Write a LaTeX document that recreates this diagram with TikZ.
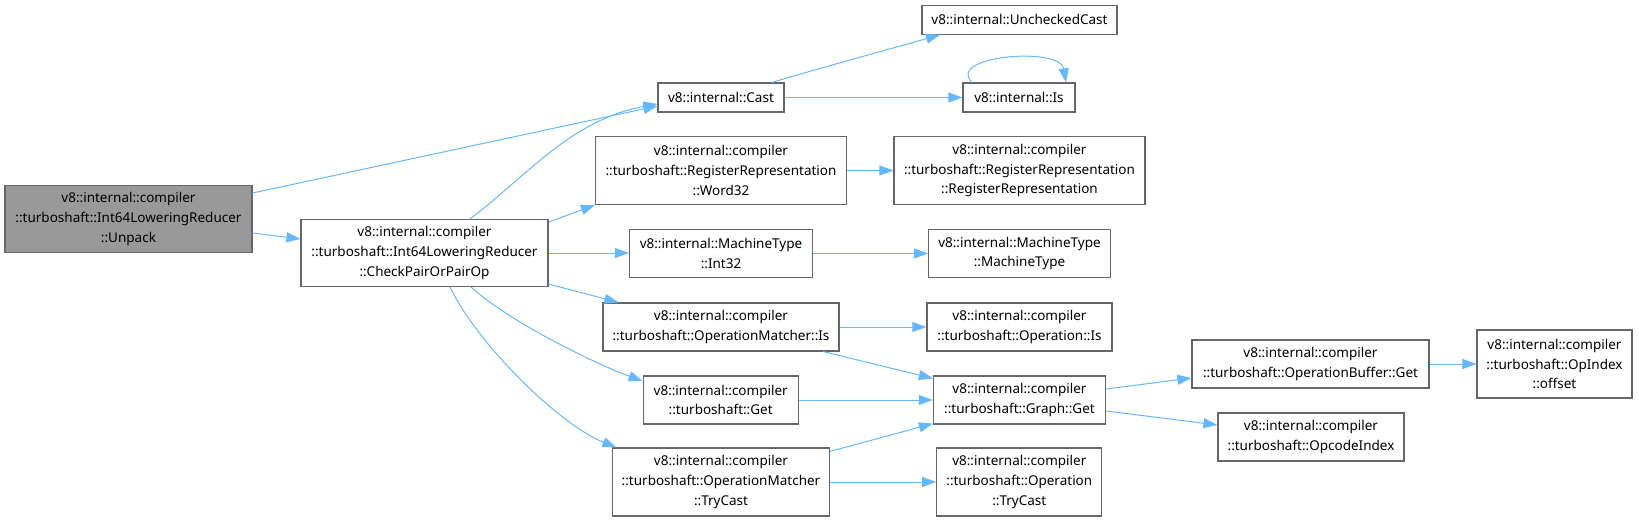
\documentclass[tikz,border=0pt]{standalone}
\usepackage{fontspec}
\setmainfont{Noto Sans}
\usetikzlibrary{arrows.meta}
\definecolor{edgeblue}{HTML}{63B8FF}
\definecolor{boxline}{HTML}{666666}
\definecolor{boxfill}{HTML}{999999}
\tikzset{
  fn/.style={draw=boxline, fill=white, line width=1.2pt, inner sep=0pt, align=center,
    font=\fontsize{13.5}{19.8}\selectfont},
  sz/.style 2 args={minimum width=#1pt, minimum height=#2pt},
  call/.style={draw=edgeblue, line width=1pt, ->},
}
\begin{document}
\begin{tikzpicture}[x=1pt, y=-1pt, >={Triangle[length=14pt,width=10pt]}]
  \useasboundingbox (0,0) rectangle (1639,522);
  % caller
  \node[fn, fill=boxfill, sz={247}{67}] (unpack) at (128.5,219) {v8::internal::compiler\\::turboshaft::Int64LoweringReducer\\::Unpack};
  \node[fn, sz={247}{67}] (check) at (424.5,253) {v8::internal::compiler\\::turboshaft::Int64LoweringReducer\\::CheckPairOrPairOp};
  % third column
  \node[fn, sz={126}{29}] (cast) at (721,97.5) {v8::internal::Cast};
  \node[fn, sz={251}{68}] (word32) at (721,170.5) {v8::internal::compiler\\::turboshaft::RegisterRepresentation\\::Word32};
  \node[fn, sz={183}{48}] (int32) at (721,253.5) {v8::internal::MachineType\\::Int32};
  \node[fn, sz={236}{48}] (omis) at (721,327) {v8::internal::compiler\\::turboshaft::OperationMatcher::Is};
  \node[fn, sz={155}{48}] (get) at (720.7,400) {v8::internal::compiler\\::turboshaft::Get};
  \node[fn, sz={217}{68}] (omtry) at (721,482) {v8::internal::compiler\\::turboshaft::OperationMatcher\\::TryCast};
  % fourth column
  \node[fn, sz={195}{29}] (unchecked) at (1019.5,19.7) {v8::internal::UncheckedCast};
  \node[fn, sz={112}{29}] (is) at (1019,97.5) {v8::internal::Is};
  \node[fn, sz={251}{68}] (regrep) at (1019.5,170.5) {v8::internal::compiler\\::turboshaft::RegisterRepresentation\\::RegisterRepresentation};
  \node[fn, sz={182}{48}] (mtype) at (1019.5,253.5) {v8::internal::MachineType\\::MachineType};
  \node[fn, sz={185}{48}] (opis) at (1019.5,327) {v8::internal::compiler\\::turboshaft::Operation::Is};
  \node[fn, sz={172}{48}] (graphget) at (1019.5,400) {v8::internal::compiler\\::turboshaft::Graph::Get};
  \node[fn, sz={165}{68}] (optry) at (1019.3,482) {v8::internal::compiler\\::turboshaft::Operation\\::TryCast};
  % last columns
  \node[fn, sz={237}{48}] (bufget) at (1310.5,364) {v8::internal::compiler\\::turboshaft::OperationBuffer::Get};
  \node[fn, sz={186}{48}] (opcode) at (1311,437) {v8::internal::compiler\\::turboshaft::OpcodeIndex};
  \node[fn, sz={155}{68}] (offset) at (1554.5,364) {v8::internal::compiler\\::turboshaft::OpIndex\\::offset};

  % calls
  \draw[call] ([yshift=26pt]unpack.east) -- ([yshift=-8.5pt]cast.west);
  \draw[call] ([yshift=-14pt]unpack.east) -- ([yshift=14pt]check.west);
  \draw[call] ([xshift=45.5pt]check.north) .. controls (525,178) and (570,120) .. ([yshift=-6.5pt]cast.west);
  \draw[call] ([xshift=51pt]cast.north) .. controls (820,68) and (890,49) .. ([xshift=-79.5pt]unchecked.south);
  \draw[call] (cast) -- (is);
  \draw[call] ([xshift=-47pt]is.north) .. controls (945,56) and (1060,46) .. ([xshift=47pt]is.north);
  \draw[call] ([yshift=31pt]check.east) -- (word32.south west);
  \draw[call] (check.east) -- (check.east -| int32.west);
  \draw[call] ([yshift=-31pt]check.east) -- ([xshift=16pt]omis.north west);
  \draw[call] ([xshift=46.5pt]check.south) .. controls (511,323) and (598,365) .. ([yshift=19pt]get.west);
  \draw[call] ([xshift=25.5pt]check.south) .. controls (478,345) and (560,425) .. ([xshift=4.5pt]omtry.north west);
  \draw[call] (word32) -- (regrep);
  \draw[call] (int32) -- (mtype);
  \draw[call] (omis) -- (opis);
  \draw[call] ([xshift=-16.5pt]omis.south east) -- ([yshift=-3pt]graphget.north west);
  \draw[call] (get.east) -- (get.east -| graphget.west);
  \draw[call] ([yshift=-4pt]omtry.north east) -- ([yshift=1pt]graphget.south west);
  \draw[call] (omtry) -- (optry);
  \draw[call] ([yshift=11pt]graphget.east) -- ([yshift=-14pt]bufget.west);
  \draw[call] ([yshift=-11pt]graphget.east) -- ([yshift=12pt]opcode.west);
  \draw[call] (bufget) -- (offset);
\end{tikzpicture}
\end{document}
